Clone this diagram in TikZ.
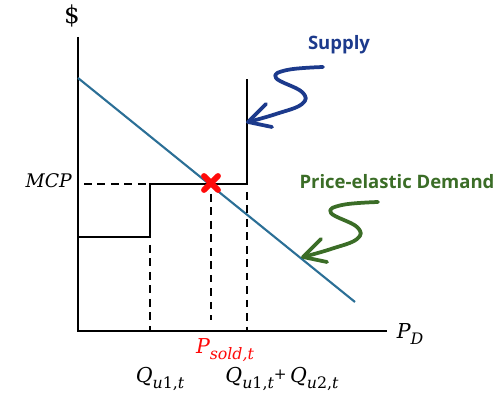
\documentclass[tikz,border=0pt]{standalone}
\usepackage{fontspec}
\newfontfamily\calloutfont{Open Sans}
\newfontfamily\symfont{DejaVu Serif}
\usetikzlibrary{arrows.meta,calc}
\definecolor{demand}{HTML}{2B6F96}
\definecolor{supplyink}{HTML}{1C3A8C}
\definecolor{elastic}{HTML}{3B6D27}
\definecolor{clear}{HTML}{FF0A0A}
% italic symbol with a lowered index
\newcommand\idx[2]{{\itshape #1}\raisebox{-0.5ex}{\fontsize{13.5}{14}\selectfont\itshape #2}}

\begin{document}
\begin{tikzpicture}[x=0.03cm,y=-0.03cm,font=\symfont\fontsize{17.5}{20}\selectfont,
    axis/.style={line width=2pt},
    curve/.style={line width=1.8pt},
    guide/.style={line width=1.8pt,dash pattern=on 6.5pt off 5pt},
    hand/.style={line width=3.2pt,line cap=round,line join=round},
    callout/.style={font=\calloutfont\bfseries\fontsize{15.8}{18}\selectfont}]
  \useasboundingbox (0,0) rectangle (503,403);
  % axes
  \coordinate (O) at (78,331);
  \coordinate (ytop) at (78,37);
  \coordinate (xend) at (387,331);
  \draw[axis] (ytop) -- (O) -- (xend);
  \node[font=\symfont\fontsize{21}{22}\selectfont] (dollar) at (72,16) {\$};
  \node (PD) at (410,334) {\idx{P}{D}};
  % demand
  \coordinate (d0) at (78,78);
  \coordinate (d1) at (355,302);
  \draw[curve,demand] (d0) -- (d1);
  % supply steps
  \coordinate (s0) at (78,237);
  \coordinate (s1) at (150,237);
  \coordinate (s2) at (150,184);
  \coordinate (s3) at (247,184);
  \coordinate (s4) at (247,79);
  \draw[curve] (s0) -- (s1) -- (s2) -- (s3) -- (s4);
  % guides
  \node[anchor=east,inner sep=0pt,font=\symfont\itshape\fontsize{16}{18}\selectfont]
    (mcp) at (72,181) {MCP};
  \draw[guide] (84,184) -- (s2);
  \draw[guide] (150,245) -- (150,331);
  \draw[guide] (211,194) -- (211,320);
  \draw[guide] (247,192) -- (247,331);
  % clearing point
  \coordinate (X) at (211,183);
  \draw[clear,line width=5pt,line cap=round] ($(X)+(-7,-7)$) -- ($(X)+(7,7)$);
  \draw[clear,line width=5pt,line cap=round] ($(X)+(-7,7)$) -- ($(X)+(7,-7)$);
  % quantity labels
  \node[text=clear] (psold) at (225,350) {\idx{P}{sold,t}};
  \node (q1) at (160,379) {\idx{Q}{u\upshape1,\itshape t}};
  \node (q12) at (282,379)
    {\idx{Q}{u\upshape1,\itshape t}\raisebox{0.3ex}{\fontsize{13}{14}\selectfont+}\,\idx{Q}{u\upshape2,\itshape t}};
  % supply callout
  \node[callout,text=supplyink] (supply) at (339,45) {Supply};
  \coordinate (stip) at (248,122);
  \draw[hand,supplyink] plot[smooth,tension=0.7] coordinates
    {(323,67) (287,70) (276,78) (302,92) (302,104) (276,114) (stip)};
  \draw[hand,supplyink] (266,104) -- (stip) -- (272,127);
  % demand callout
  \node[callout,text=elastic] (pedem) at (397,182) {Price-elastic Demand};
  \coordinate (dtip) at (303,257);
  \draw[hand,elastic] plot[smooth,tension=0.7] coordinates
    {(378,202) (342,205) (331,213) (357,227) (357,239) (331,249) (dtip)};
  \draw[hand,elastic] (321,239) -- (dtip) -- (327,262);
\end{tikzpicture}
\end{document}
